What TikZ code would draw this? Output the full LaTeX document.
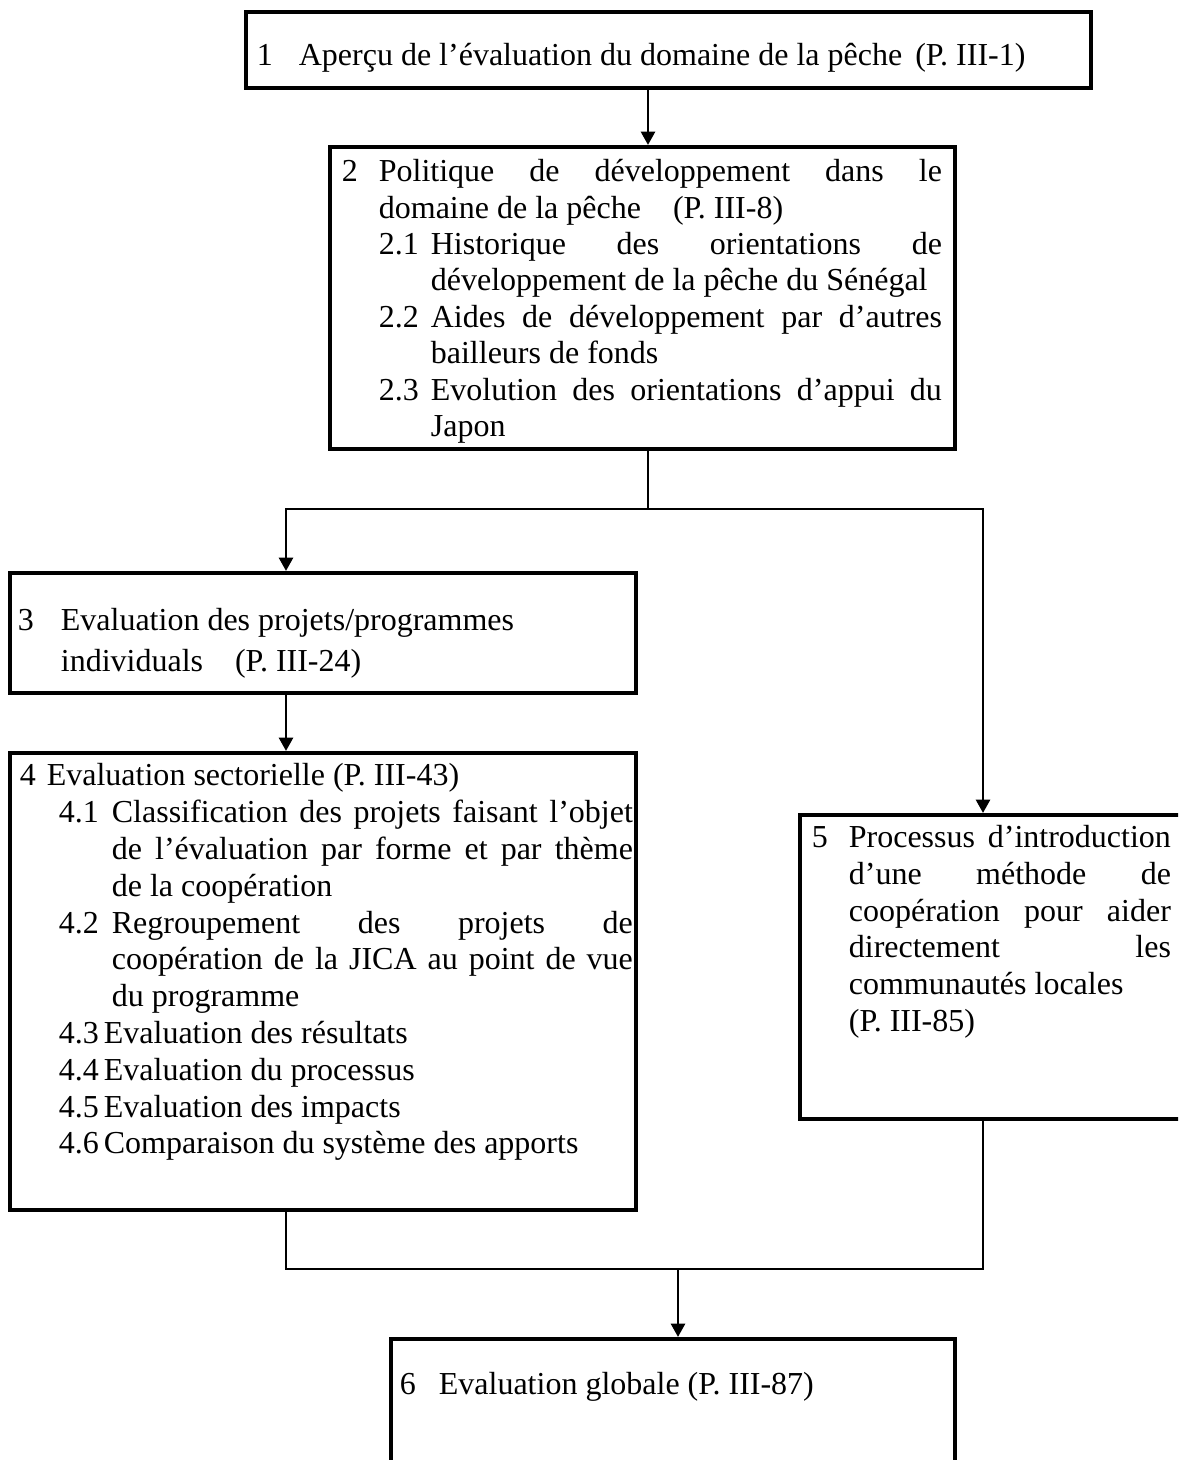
\documentclass[tikz,border=0pt]{standalone}
\usepackage{fontspec}
\setmainfont{Liberation Serif}
\usetikzlibrary{arrows.meta}

\newlength\pxu
\setlength\pxu{0.375pt}
% text block of a box: width, left and right margin, content
\newcommand\blktext[4]{\parbox[t]{#1}{\leftskip=#2\pxu\rightskip=#3\pxu\relax#4}}
% numbered entry: indent, width of the number, number
\newcommand\itm[3]{\par\hangindent=\dimexpr#1\pxu+#2\pxu\relax\hangafter=1
  \noindent\hspace*{#1\pxu}\makebox[#2\pxu][l]{#3}\ignorespaces}

\begin{document}
\begin{tikzpicture}[x=0.375pt,y=-0.375pt,
  blk/.style={draw,line width=1.4pt,inner sep=0pt,anchor=north west,
    font=\fontsize{12pt}{13.75pt}\selectfont},
  ln/.style={line width=1.1pt},
  arr/.style={ln,-{Triangle[length=5pt,width=5.2pt]}}]
\useasboundingbox (0,0) rectangle (1178,1460);
\clip (0,0) rectangle (1178,1460);

\node[blk,text height=20.25pt,text depth=8.25pt] (b1) at (244,10)
  {\blktext{316.9pt}{11}{0}{\itm{0}{42}{1}Aperçu de l’évaluation du domaine de la pêche\hspace{4.9pt}(P.~III-1)}};

\node[blk,text height=13.1pt,text depth=100.1pt,
  font=\fontsize{12pt}{13.65pt}\selectfont] (b2) at (328,145)
  {\blktext{234.4pt}{12}{13}{%
   \itm{0}{37}{2}Politique de développement dans le\linebreak domaine de la pêche\hspace{1em}(P.~III-8)
   \itm{37}{52}{2.1}Historique des orientations de\linebreak développement de la pêche du Sénégal
   \itm{37}{52}{2.2}Aides de développement par d’autres\linebreak bailleurs de fonds
   \itm{37}{52}{2.3}Evolution des orientations d’appui du\linebreak Japon}};

\node[blk,text height=21.75pt,text depth=23.25pt,
  font=\fontsize{12pt}{15.4pt}\selectfont] (b3) at (8,571)
  {\blktext{234.75pt}{8}{0}{\itm{0}{43}{3}Evaluation des projets/programmes\\individuals\hspace{1em}(P.~III-24)}};

\node[blk,text height=12.4pt,text depth=159pt,
  font=\fontsize{12pt}{13.8pt}\selectfont] (b4) at (8,751)
  {\blktext{234.75pt}{10}{3}{%
   \itm{0}{27}{4}Evaluation sectorielle (P.~III-43)
   \itm{39}{53}{4.1}Classification des projets faisant l’objet\linebreak de l’évaluation par forme et par thème\linebreak de la coopération
   \itm{39}{53}{4.2}Regroupement des projets de\linebreak coopération de la JICA au point de vue\linebreak du programme
   \itm{39}{45}{4.3}Evaluation des résultats
   \itm{39}{45}{4.4}Evaluation du processus
   \itm{39}{45}{4.5}Evaluation des impacts
   \itm{39}{45}{4.6}Comparaison du système des apports}};

\node[blk,text height=12.4pt,text depth=101.6pt] (b5) at (798,813)
  {\blktext{144.4pt}{12}{14}{\itm{0}{37}{5}Processus d’introduction\linebreak d’une méthode de\linebreak coopération pour aider\linebreak directement les\linebreak communautés locales\\(P.~III-85)}};

\node[blk,text height=21pt,text depth=32.6pt] (b6) at (389,1337)
  {\blktext{211.5pt}{9}{0}{\itm{0}{39}{6}Evaluation globale (P.~III-87)}};

% branch points of the connectors
\coordinate (split) at (648,509);
\coordinate (fork3) at (286,509);
\coordinate (fork5) at (983,509);
\coordinate (join) at (678,1269);

\draw[arr] (b1.south -| split) -- (b2.north -| split);
\draw[ln] (b2.south -| split) -- (split);
\draw[arr] (split) -| (b3.north -| fork3);
\draw[arr] (split) -| (b5.north -| fork5);
\draw[arr] (b3.south -| fork3) -- (b4.north -| fork3);
\draw[ln] (b4.south -| fork3) |- (join) -| (b5.south -| fork5);
\draw[arr] (join) -- (b6.north -| join);
\end{tikzpicture}
\end{document}
